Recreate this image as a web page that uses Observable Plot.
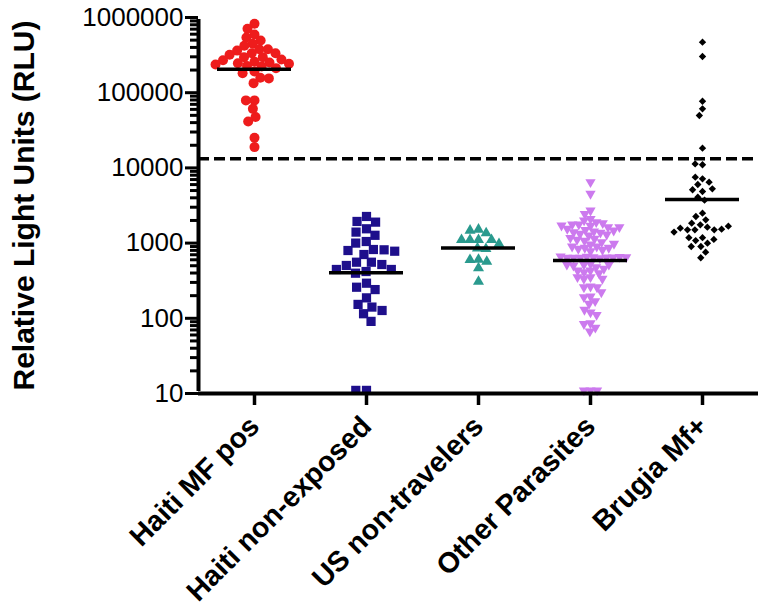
<!DOCTYPE html>
<html>
<head>
<meta charset="utf-8">
<script src="https://cdn.jsdelivr.net/npm/d3@7"></script>
<script src="https://cdn.jsdelivr.net/npm/@observablehq/plot@0.6"></script>
<style>
html, body { margin: 0; padding: 0; background: #fff; }
#chart svg { display: block; }
</style>
</head>
<body>
<div id="chart"></div>
<script>
// ---- data ----
const categories = ["Haiti MF pos", "Haiti non-exposed", "US non-travelers", "Other Parasites", "Brugia Mf+"];

const haitiMfPos = [824000, 707000, 594000, 542000, 494000, 447000, 420000, 378000, 378000, 363000,
  334000, 334000, 320000, 297000, 297000, 276000, 270000, 258000, 252000, 247000,
  243000, 237000, 227000, 223000, 212000, 192000, 181000, 158000, 155000, 134000,
  79000, 79000, 61000, 47500, 41500, 25200, 18900];

const haitiNonExposed = [2260, 1940, 1900, 1550, 1400, 1270, 1050, 1000, 822, 814,
  797, 780, 705, 557, 557, 519, 504, 446, 446, 419,
  398, 293, 259, 241, 187, 153, 141, 127, 115, 91, 11, 11];

const usNonTravelers = [1517, 1472, 1355, 1107, 1107, 1107, 1107, 979, 855, 840, 605, 600, 569, 464, 308];

const otherParasites = [6460, 4530, 2710, 2450, 2100, 2000, 1900, 1840, 1770, 1770,
  1700, 1630, 1500, 1430, 1380, 1330, 1260, 1300, 1400, 1470, 1550, 1630, 1710,
  1140, 1080, 960, 900, 866, 840, 814, 866, 900, 980, 1030, 1110, 1175,
  780,
  660, 650, 630, 640, 645, 640, 645, 640, 655, 665, 650,
  531, 519, 478, 432, 410, 398, 432, 455, 504, 519, 519,
  352, 335, 335, 352,
  265, 259, 259,
  222, 195, 191, 169, 156, 120, 130, 111, 86, 84, 75, 67,
  11, 11, 11];

const brugiaMf = [470000, 303000, 77000, 61000, 49700, 18300, 11000, 11300, 7160, 7520,
  6010, 6460, 4860, 5270, 5120, 4080, 3720, 2500, 2260, 2040,
  1750, 1630, 1500, 1500, 1500, 1530, 1580, 1680, 1840, 1400,
  1180, 1080, 998, 1120, 1180, 901, 901, 757, 638];

const medians = [205000, 403, 860, 588, 3800];
const threshold = 13200;

const yTicks = [10, 100, 1000, 10000, 100000, 1000000];
const yTickLabels = ["10", "100", "1000", "10000", "100000", "1000000"];
const yLabel = "Relative Light Units (RLU)";

// ---- styling (not data) ----
const triangleDown = {
  draw(context, size) {
    const s3 = Math.sqrt(3);
    const y = -Math.sqrt(size / (s3 * 3));
    context.moveTo(0, -y * 2);
    context.lineTo(-s3 * y, y);
    context.lineTo(s3 * y, y);
    context.closePath();
  }
};

const seriesValues = [haitiMfPos, haitiNonExposed, usNonTravelers, otherParasites, brugiaMf];
const seriesStyle = [
  {fill: "#ee1c1c", symbol: "circle", r: 5, pad: -1.4},
  {fill: "#1e0f8c", symbol: "square", r: 5.2, pad: 0.3},
  {fill: "#2a9a8e", symbol: "triangle", r: 4.1, pad: 0.3},
  {fill: "#cc7aee", symbol: triangleDown, r: 3.8, pad: -1.0},
  {fill: "#000000", symbol: "diamond2", r: 3.3, pad: 0.8}
];

const yMinor = [];
for (let e = 1; e < 6; e++) for (let k = 2; k < 10; k++) yMinor.push(k * Math.pow(10, e));

const medianRows = categories.map((c, i) => ({cat: c, m: medians[i]}));

const dotMarks = categories.map((c, i) => {
  const st = seriesStyle[i];
  return Plot.dot(seriesValues[i], Plot.dodgeX({anchor: "middle", padding: st.pad}, {
    fx: () => c, y: d => d, r: st.r, fill: st.fill, symbol: st.symbol
  }));
});

const chart = Plot.plot({
  width: 766,
  height: 611,
  marginTop: 17,
  marginBottom: 218,
  marginLeft: 197,
  marginRight: 8,
  style: {fontFamily: "'Liberation Sans', Arial, Helvetica, sans-serif", background: "#fff", color: "#000"},
  fx: {domain: categories, padding: 0, label: null},
  x: {domain: [-1, 1], axis: null},
  y: {type: "log", domain: [10, 1000000], label: null},
  marks: [
    ...dotMarks,
    Plot.ruleY(medianRows, {fx: "cat", y: "m", strokeWidth: 3.5, insetLeft: 19, insetRight: 19, stroke: "#000"}),
    Plot.ruleY([threshold], {strokeWidth: 3.5, strokeDasharray: "11,5", stroke: "#000"}),
    Plot.ruleY([10], {strokeWidth: 4, stroke: "#000"}),
    Plot.ruleX([categories[0]], {fx: d => d, x: () => -1, y1: 10, y2: 1000000, insetTop: -2, insetBottom: -2, strokeWidth: 4, stroke: "#000"}),
    Plot.axisY(yTicks, {tickFormat: (d) => yTickLabels[yTicks.indexOf(d)], tickSize: 13, tickPadding: 2, strokeWidth: 3, fontSize: 26, label: null}),
    Plot.axisY(yMinor, {tickFormat: () => "", tickSize: 8, strokeWidth: 3, label: null}),
    Plot.axisFx({anchor: "bottom", tickRotate: -45, tickSize: 12, tickPadding: 16, strokeWidth: 3.5, fontSize: 28.5, fontWeight: "bold", label: null}),
    Plot.text([yLabel], {fx: () => categories[0], text: d => d, frameAnchor: "left", textAnchor: "middle", dx: -174, rotate: -90, fontSize: 30, fontWeight: "bold", fill: "#000"})
  ]
});

document.getElementById("chart").appendChild(chart);
</script>
</body>
</html>
